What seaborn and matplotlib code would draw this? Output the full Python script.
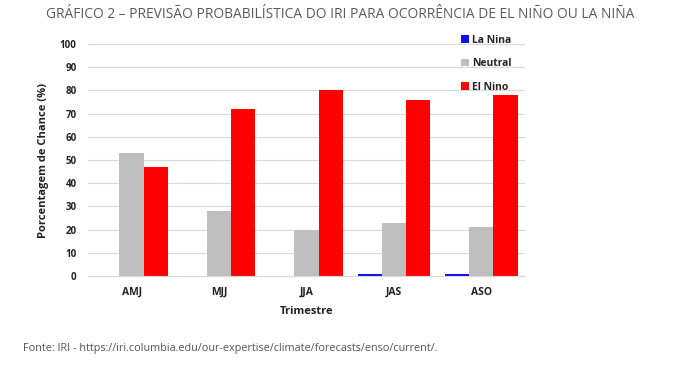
import matplotlib
matplotlib.use("Agg")
import matplotlib.pyplot as plt
import seaborn as sns
import pandas as pd

categories = ["AMJ", "MJJ", "JJA", "JAS", "ASO"]
la_nina = [0, 0, 0, 1, 1]
neutral = [53, 28, 20, 23, 21]
el_nino = [47, 72, 80, 76, 78]
series_names = ["La Nina", "Neutral", "El Nino"]
colors = ["#1010ee", "#bfbfbf", "#ff0000"]
yticks = list(range(0, 101, 10))

rows = []
for name, vals in zip(series_names, [la_nina, neutral, el_nino]):
    for c, v in zip(categories, vals):
        rows.append({"Trimestre": c, "Serie": name, "Valor": v})
df = pd.DataFrame(rows)

sns.set_style("white")
plt.rcParams["font.family"] = ["Open Sans", "DejaVu Sans"]

fig = plt.figure(figsize=(6.81, 3.72), dpi=100)
ax = fig.add_axes([0.129, 0.258, 0.642, 0.624])
sns.barplot(data=df, x="Trimestre", y="Valor", hue="Serie", hue_order=series_names,
            palette=colors, width=0.83, ax=ax, saturation=1, legend=True, linewidth=0)
ax.set_ylim(0, 100)
ax.set_yticks(yticks)
ax.set_yticklabels([str(t) for t in yticks], fontsize=7, fontweight="bold", color="#222222")
ax.set_xticks(range(len(categories)))
ax.set_xticklabels(categories, fontsize=7.5, fontweight="bold", color="#222222")
ax.yaxis.grid(True, color="#d9d9d9", linewidth=0.8)
ax.set_axisbelow(True)
for s in ["top", "right", "left"]:
    ax.spines[s].set_visible(False)
ax.spines["bottom"].set_color("#d9d9d9")
ax.tick_params(axis="both", length=0, pad=8)
ax.set_xlim(-0.5, 4.5)
ax.set_xlabel("Trimestre", fontsize=8, fontweight="bold", color="#222222", labelpad=6)
ax.set_ylabel("Porcentagem de Chance (%)", fontsize=8, fontweight="bold", color="#222222", labelpad=8)

handles, labels = ax.get_legend_handles_labels()
leg = ax.legend(handles, labels, loc="upper right", bbox_to_anchor=(0.99, 1.08), frameon=False,
                handlelength=0.7, handleheight=0.7, handletextpad=0.3,
                labelspacing=1.2, prop={"weight": "bold", "size": 7.5})

fig.text(0.5, 0.962, "GRÁFICO 2 – PREVISÃO PROBABILÍSTICA DO IRI PARA OCORRÊNCIA DE EL NIÑO OU LA NIÑA",
         ha="center", va="center", fontsize=9.9, color="#5a5a5a")
fig.text(0.034, 0.064, "Fonte: IRI - https://iri.columbia.edu/our-expertise/climate/forecasts/enso/current/.",
         ha="left", va="center", fontsize=7.8, color="#555555")

fig.savefig("out.png", dpi=100)
